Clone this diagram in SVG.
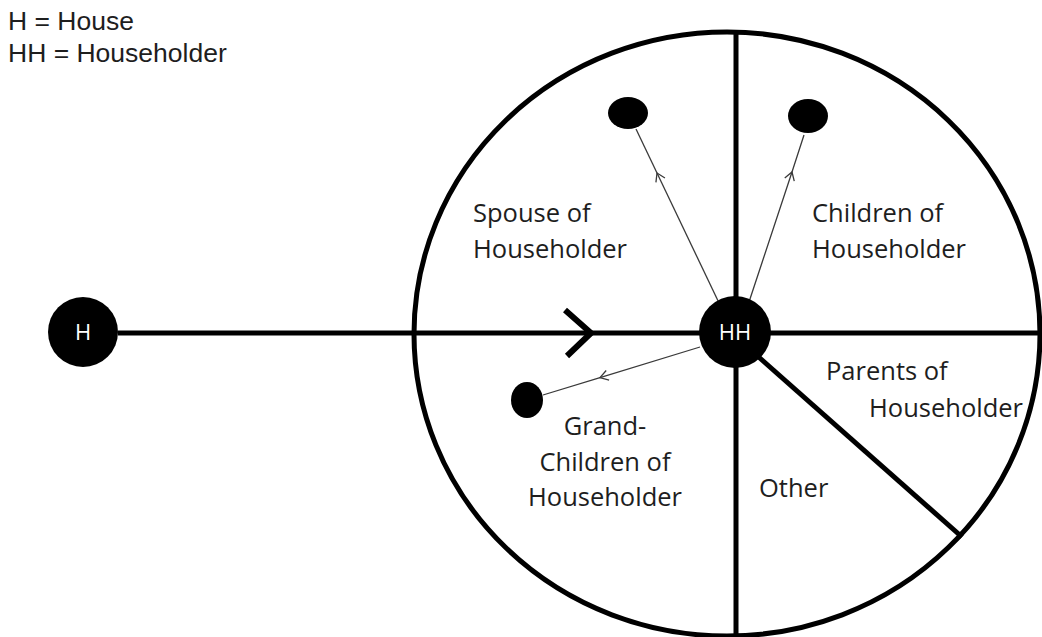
<svg xmlns="http://www.w3.org/2000/svg" width="1042" height="637" viewBox="0 0 1042 637">
<style>
.t{font-family:"Open Sans","Liberation Sans",sans-serif;font-size:25.5px;fill:#1e1e1e}
.l{font-family:"Liberation Sans","Open Sans",sans-serif;font-size:26.5px;fill:#1e1e1e}
.w{font-family:"Open Sans","Liberation Sans",sans-serif;font-size:22px;fill:#ffffff;text-anchor:middle}
.thick{stroke:#000;stroke-width:5;fill:none}
.thin{stroke:#3a3a3a;stroke-width:1.3;fill:none}
</style>
<defs>
<marker id="chev" markerUnits="userSpaceOnUse" markerWidth="20" markerHeight="20" viewBox="-10 -10 20 20" refX="0" refY="0" orient="auto">
<path d="M -8 -5 L 0 0 L -8 5" fill="none" stroke="#3a3a3a" stroke-width="1.3"/>
</marker>
</defs>
<rect width="1042" height="637" fill="#ffffff"/>
<g id="legend">
<text class="l" x="8" y="30">H = House</text>
<text class="l" x="8" y="62">HH = Householder</text>
</g>
<g id="pie">
<ellipse cx="727" cy="334" rx="313" ry="302" class="thick"/>
<line x1="736" y1="32" x2="736" y2="637" class="thick"/>
<line x1="736" y1="333" x2="1042" y2="333" class="thick"/>
<line x1="736" y1="337" x2="962" y2="537" class="thick"/>
</g>
<g id="connectors">
<line x1="118" y1="333" x2="736" y2="333" class="thick"/>
<path d="M565,310 L591,333 L567,356" fill="none" stroke="#000" stroke-width="6"/>
<polyline points="720,305 657,173 636,129" class="thin" marker-mid="url(#chev)"/>
<polyline points="748,305 792,172 804,135" class="thin" marker-mid="url(#chev)"/>
<polyline points="700,347 600,377.6 543,395" class="thin" marker-mid="url(#chev)"/>
</g>
<g id="node-H">
<circle cx="83" cy="332" r="35" fill="#000"/>
<text class="w" x="83" y="340">H</text>
</g>
<g id="node-HH">
<circle cx="735" cy="332" r="36" fill="#000"/>
<text class="w" x="735" y="340">HH</text>
</g>
<g id="node-spouse">
<ellipse cx="628" cy="113" rx="20" ry="16" fill="#000"/>
</g>
<g id="node-children">
<ellipse cx="808" cy="116" rx="20" ry="17" fill="#000"/>
</g>
<g id="node-grandchildren">
<ellipse cx="527" cy="400" rx="16" ry="18" fill="#000"/>
</g>
<g id="labels">
<text class="t" x="473" y="222">Spouse of</text>
<text class="t" x="473" y="258">Householder</text>
<text class="t" x="812" y="222">Children of</text>
<text class="t" x="812" y="258">Householder</text>
<text class="t" x="826" y="380">Parents of</text>
<text class="t" x="869" y="417">Householder</text>
<text class="t" x="605" y="435" text-anchor="middle">Grand-</text>
<text class="t" x="605" y="471" text-anchor="middle">Children of</text>
<text class="t" x="605" y="506" text-anchor="middle">Householder</text>
<text class="t" x="759" y="497">Other</text>
</g>
</svg>
